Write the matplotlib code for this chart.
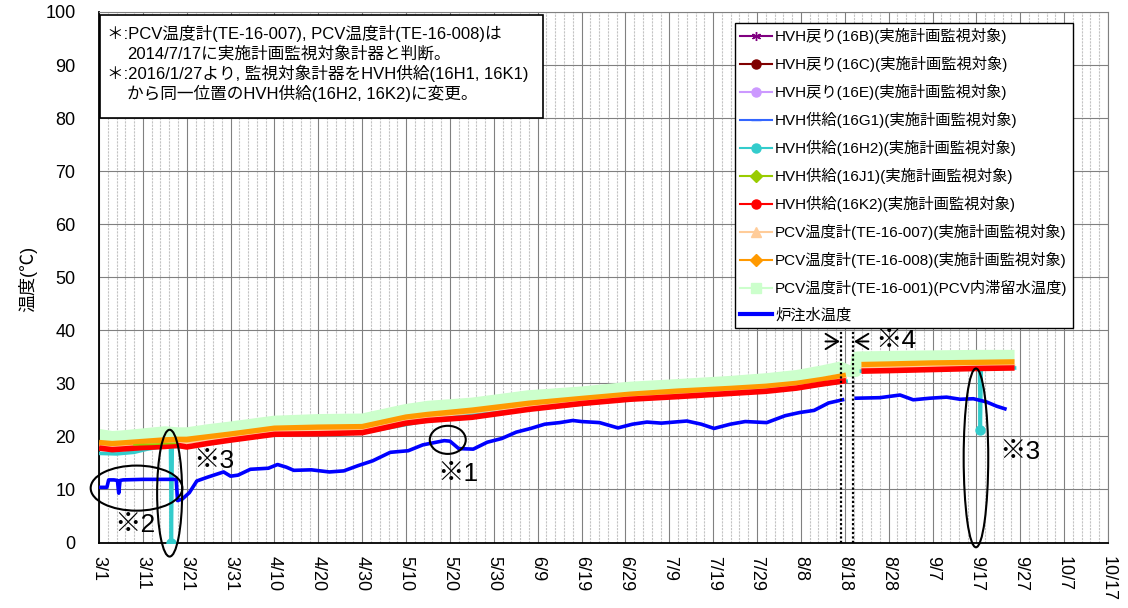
"""Reactor PCV / HVH temperature trend chart (3/1 - 10/17)."""

import matplotlib
matplotlib.use("Agg")
import matplotlib.pyplot as plt
import matplotlib.dates as mdates
from matplotlib.lines import Line2D
from matplotlib.patches import Ellipse, Rectangle
import numpy as np
import pandas as pd

plt.rcParams["font.family"] = ["Liberation Sans", "Noto Sans CJK JP"]

START = pd.Timestamp("2017-03-01")
END_DAY = 230
nan = np.nan

# 炉注水温度 (days after 3/1)
INJ_DAYS = [0, 1.8, 2.2, 3.4, 4.2, 4.5, 4.8, 5.5, 10, 17.6, 17.9, 19, 20.6, 22.3,
            24.7, 28.4, 30, 31.7, 34.5, 38.6, 40.7, 42.7, 44.4, 48.4, 52.5, 55.8,
            59.1, 62.4, 66.4, 70.5, 73.8, 78.7, 80, 82, 85.3, 88.5, 91.8, 95.1,
            98.4, 101.6, 105, 108, 110, 114.1, 118.3, 121.6, 124.9, 128.2, 134,
            137.3, 140.2, 143.9, 147.3, 152.2, 156.4, 159.7, 163, 166.3, 169.5,
            171, 172.6, 178, 182.6, 185.6, 189.4, 193.2, 196.3, 199.3, 202.3,
            204.6, 206.5]
INJ_TEMP = [10.4, 10.4, 11.8, 11.8, 11.7, 9.3, 11.7, 11.8, 11.9, 11.9, 7.9, 8.2,
            9.4, 11.6, 12.3, 13.3, 12.5, 12.7, 13.8, 14.0, 14.7, 14.2, 13.6, 13.7,
            13.3, 13.5, 14.5, 15.4, 17.0, 17.3, 18.4, 19.2, 19.1, 17.7, 17.6, 18.9,
            19.6, 20.8, 21.5, 22.3, 22.6, 23.0, 22.8, 22.6, 21.6, 22.3, 22.7, 22.5,
            22.9, 22.3, 21.5, 22.3, 22.8, 22.6, 23.9, 24.5, 24.9, 26.3, 26.9, nan,
            27.2, 27.3, 27.8, 26.9, 27.2, 27.4, 27.0, 27.1, 26.5, 25.7, 25.2]

# HVH供給(16K2) / PCV温度計(TE-16-008) / PCV温度計(TE-16-007)
BAND_DAYS = [0, 3, 5, 10, 15, 18, 20, 25, 30, 40, 50, 60, 70, 75, 85, 98, 110,
             121, 132, 144, 152, 159, 165, 170.3, 171.5, 173.8, 180, 190, 200, 208.7]
K2_TEMP = [17.8, 17.5, 17.6, 17.9, 18.1, 18.3, 18.0, 18.7, 19.3, 20.4, 20.5, 20.7,
           22.5, 23.0, 23.6, 25.1, 26.2, 27.0, 27.5, 28.1, 28.5, 29.1, 29.9, 30.5,
           nan, 32.3, 32.4, 32.6, 32.8, 32.9]
TE008_TEMP = [18.7, 18.5, 18.6, 18.9, 19.2, 19.3, 19.3, 19.8, 20.3, 21.4, 21.6, 21.7,
              23.5, 24.0, 24.8, 26.1, 27.0, 27.8, 28.4, 28.9, 29.3, 29.85, 30.6, 31.4,
              nan, 33.4, 33.5, 33.7, 33.8, 33.9]
TE007_TEMP = [18.2, 18.0, 18.1, 18.4, 18.6, 18.8, 18.7, 19.3, 19.8, 20.9, 21.1, 21.2,
              23.0, 23.5, 24.2, 25.6, 26.6, 27.4, 27.9, 28.5, 28.9, 29.5, 30.2, 31.0,
              nan, 32.9, 33.0, 33.2, 33.3, 33.4]

# PCV温度計(TE-16-001) PCV内滞留水温度
TE001_DAYS = [0, 3, 5, 10, 15, 18, 20, 25, 30, 40, 50, 60, 70, 75, 85, 98, 110,
              121, 132, 144, 152, 159, 165, 169, 171, 172.5, 172.8, 180, 190, 200, 208.7]
TE001_TEMP = [20.3, 19.9, 20.0, 20.4, 20.8, 20.6, 20.6, 21.2, 21.7, 22.8, 23.1, 23.2,
              25.0, 25.6, 26.2, 27.6, 28.3, 29.2, 29.7, 30.3, 30.8, 31.4, 32.3, 33.0,
              32.3, 32.3, 34.9, 35.0, 35.1, 35.2, 35.2]

# HVH供給(16H2)
H2_DAYS = [0, 4, 8, 11, 14, 16.3, 16.5, 16.7, 20, 30, 40, 60, 75, 98, 121, 144,
           159, 170.3, 171.5, 173.8, 190, 200.7, 200.9, 201.1, 208.7]
H2_TEMP = [16.8, 16.7, 17.0, 17.6, 18.0, 18.1, 0.0, 18.1, 18.0, 19.3, 20.4, 20.7,
           23.0, 25.1, 27.0, 28.1, 29.1, 30.4, nan, 32.3, 32.6, 32.8, 21.2, 32.8, 32.9]
H2_OUTLIERS = [6, 22]

# HVH供給(16J1) (only visible segment)
J1_DAYS = [8, 12, 17.5]
J1_TEMP = [18.4, 18.5, 18.7]

LEGEND_LABELS = [
    "HVH戻り(16B)(実施計画監視対象)",
    "HVH戻り(16C)(実施計画監視対象)",
    "HVH戻り(16E)(実施計画監視対象)",
    "HVH供給(16G1)(実施計画監視対象)",
    "HVH供給(16H2)(実施計画監視対象)",
    "HVH供給(16J1)(実施計画監視対象)",
    "HVH供給(16K2)(実施計画監視対象)",
    "PCV温度計(TE-16-007)(実施計画監視対象)",
    "PCV温度計(TE-16-008)(実施計画監視対象)",
    "PCV温度計(TE-16-001)(PCV内滞留水温度)",
    "炉注水温度",
]
LEGEND_COLORS = ["#800080", "#800000", "#CC99FF", "#3366FF", "#33CCCC", "#99CC00",
                 "#FF0000", "#FFCC99", "#FF9900", "#CCFFCC", "#0000FF"]
LEGEND_MARKERS = [(6, 2, 0), "o", "o", "_", "o", "D", "o", "^", "D", "s", None]

NOTE_LINES = [
    "＊:PCV温度計(TE-16-007), PCV温度計(TE-16-008)は",
    "2014/7/17に実施計画監視対象計器と判断。",
    "＊:2016/1/27より, 監視対象計器をHVH供給(16H1, 16K1)",
    "から同一位置のHVH供給(16H2, 16K2)に変更。",
]

# (center day, center value, width days, height value, label, label day, label value)
MARKS = [
    (8.55, 10.25, 20.9, 8.5, "※2", 3.4, 3.3),
    (16.1, 9.3, 5.7, 23.9, "※3", 21.4, 15.4),
    (79.5, 19.35, 8.2, 5.3, "※1", 77.1, 12.9),
    (199.9, 15.95, 5.6, 33.7, "※3", 205.2, 17.0),
]
GAP_LINES = [169.2, 171.8]


def dnum(days):
    return mdates.date2num(START) + np.asarray(days, dtype=float)


def main() -> None:
    fig = plt.figure(figsize=(11.28, 6.08), dpi=100)
    ax = fig.add_axes([99 / 1128, 1 - 542.5 / 608, 1009 / 1128, 530.5 / 608])

    ax.plot(dnum(TE001_DAYS), TE001_TEMP, color="#CCFFCC", lw=8.5, zorder=2,
            solid_capstyle="butt")
    ax.plot(dnum(BAND_DAYS), TE008_TEMP, color="#FF9900", lw=5.0, zorder=3,
            solid_capstyle="butt")
    ax.plot(dnum(BAND_DAYS), TE007_TEMP, color="#FFCC99", lw=1.2, zorder=3.5)
    ax.plot(dnum(H2_DAYS), H2_TEMP, color="#33CCCC", lw=2.6, zorder=3.6,
            marker="o", ms=6.5, markevery=H2_OUTLIERS)
    ax.plot(dnum(BAND_DAYS), K2_TEMP, color="#FF0000", lw=4.0, zorder=4,
            solid_capstyle="butt")
    ax.plot(dnum(J1_DAYS), J1_TEMP, color="#99CC00", lw=1.2, zorder=4.5)
    ax.plot(dnum(INJ_DAYS), INJ_TEMP, color="#0000FF", lw=2.6, zorder=5)

    for d in GAP_LINES:
        ax.plot(dnum([d, d]), [0, 40], color="black", lw=1.6, ls=(0, (1, 1)), zorder=6)
    arrow = dict(arrowstyle="->,head_length=0.9,head_width=0.55", color="black",
                 lw=1.4, shrinkA=0, shrinkB=0)
    ax.annotate("", xy=(dnum(168.9), 37.9), xytext=(dnum(165.6), 37.9),
                arrowprops=arrow, zorder=7)
    ax.annotate("", xy=(dnum(172.1), 37.9), xytext=(dnum(175.4), 37.9),
                arrowprops=arrow, zorder=7)
    ax.text(dnum(176.9), 37.9, "※4", fontsize=19, va="center", ha="left", zorder=7)

    for cx, cy, w, h, lab, lx, ly in MARKS:
        ax.add_patch(Ellipse((dnum(cx), cy), w, h, fill=False, ec="black", lw=1.5,
                             zorder=7, clip_on=False))
        ax.text(dnum(lx), ly, lab, fontsize=19, va="center", ha="left", zorder=7)

    # axes, grid, ticks
    ax.set_xlim(dnum(0), dnum(END_DAY))
    ax.set_ylim(0, 100)
    major = np.arange(0, END_DAY + 1, 10)
    ax.set_xticks(dnum(major))
    ax.set_xticks(dnum(np.arange(0, END_DAY + 1, 2)), minor=True)
    labels = [f"{t.month}/{t.day}" for t in START + pd.to_timedelta(major, unit="D")]
    ax.set_xticklabels(labels, rotation=-90, va="top", ha="center")
    ax.set_yticks(np.arange(0, 101, 10))
    ax.tick_params(axis="both", which="both", length=0, labelsize=13)
    ax.tick_params(axis="x", pad=10)
    ax.tick_params(axis="y", pad=17)
    ax.grid(which="major", color="#808080", lw=0.8)
    ax.grid(which="minor", axis="x", color="#c4c4c4", lw=0.8, ls=(0, (2, 1)))
    ax.set_axisbelow(True)
    for side in ("top", "right"):
        ax.spines[side].set_color("#808080")
    for side in ("left", "bottom"):
        ax.spines[side].set_linewidth(1.3)
    fig.text(28 / 1128, 1 - 279 / 608, "温度(℃)", rotation=90, fontsize=13,
             ha="center", va="center")

    # note box
    ax.add_patch(Rectangle((100 / 1128, 1 - 118 / 608), 443 / 1128, 103 / 608,
                           transform=fig.transFigure, fc="white", ec="black",
                           lw=1.2, zorder=8))
    note_pos = [(107, 34), (127, 53.5), (107, 73.5), (127, 93.5)]
    for (px, py), line in zip(note_pos, NOTE_LINES):
        fig.text(px / 1128, 1 - py / 608, line, fontsize=12, va="center",
                 ha="left", zorder=9)

    # legend
    handles = []
    for lab, col, mk in zip(LEGEND_LABELS, LEGEND_COLORS, LEGEND_MARKERS):
        lw = 3 if mk is None else 1.5
        handles.append(Line2D([], [], color=col, lw=lw, marker=mk, ms=6.5,
                              mec=col, mfc=col, label=lab))
    leg = ax.legend(handles=handles, loc="upper left",
                    bbox_to_anchor=(734.7 / 1128, 1 - 22.7 / 608),
                    bbox_transform=fig.transFigure, fontsize=11, frameon=True,
                    fancybox=False, framealpha=1, edgecolor="black",
                    borderaxespad=0, borderpad=0.35, handlelength=2.1,
                    handletextpad=0.2, labelspacing=0.78, numpoints=1)
    leg.get_frame().set_linewidth(1.0)
    leg.set_zorder(10)

    fig.savefig("out.png", dpi=100)
    plt.close(fig)


if __name__ == "__main__":
    main()
